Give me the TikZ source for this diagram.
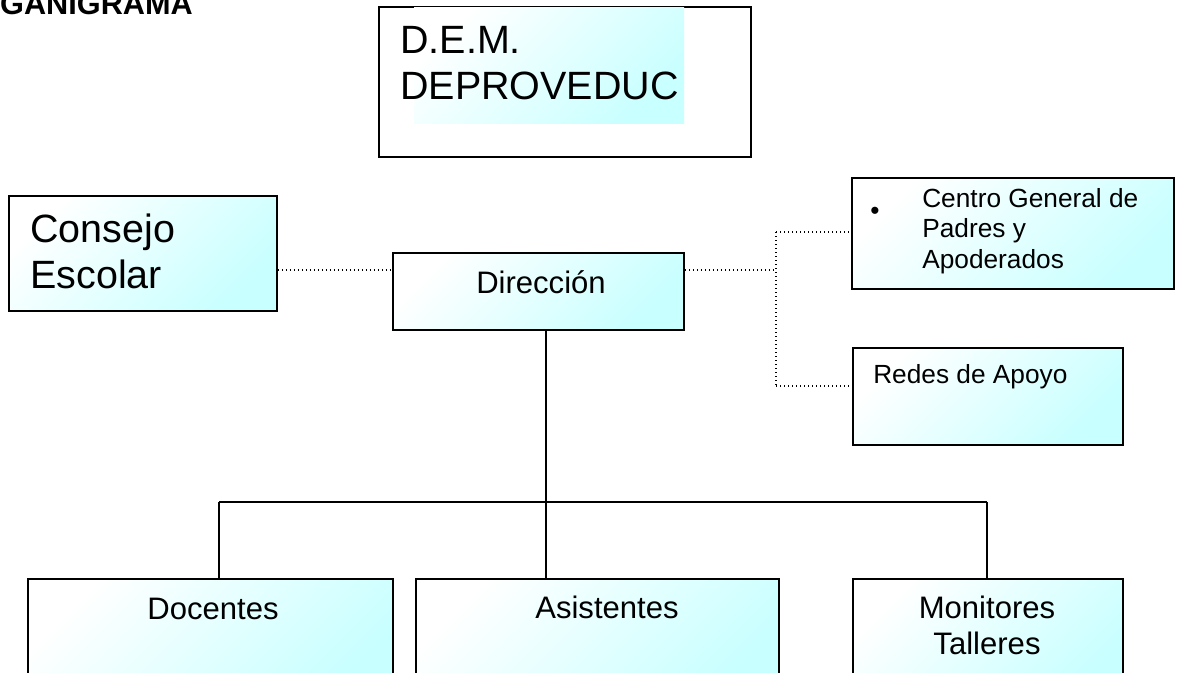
\documentclass[tikz,border=0pt]{standalone}
\usepackage{fontspec}
\setmainfont{Liberation Sans}
\definecolor{cyanish}{RGB}{200,255,255}
\tikzset{
  box/.style={draw=black, line width=1.4pt, inner sep=0pt, anchor=north west,
    top color=white, bottom color=cyanish, shading angle=45},
  plainbox/.style={draw=black, line width=1.4pt, inner sep=0pt, anchor=north west, fill=white},
  conn/.style={draw=black, line width=1.2pt},
  dots/.style={draw=black, line width=0.9pt, dash pattern=on 0.9pt off 2.1pt},
  txt/.style={inner sep=0pt, text=black},
  big/.style={font=\fontsize{29.6}{33.8}\selectfont},
  mid/.style={font=\fontsize{23.3}{26.8}\selectfont},
  small/.style={font=\fontsize{19.7}{22.6}\selectfont},
}
\begin{document}
\begin{tikzpicture}[x=0.75pt,y=-0.75pt]
\useasboundingbox (0,0) rectangle (1177,672);
% title
\node[txt, anchor=base east, font=\fontsize{23}{26}\selectfont\bfseries] (title) at (193,14) {GANIGRAMA};
% D.E.M. box
\node[plainbox, minimum width=279pt, minimum height=112.5pt] (dem) at (378,6) {};
\shade[top color=white, bottom color=cyanish, shading angle=45] (414,7) rectangle (684,123);
\node[txt, big, align=left, anchor=base west] (demT) at (400,99) {D.E.M.\\DEPROVEDUC};
% Consejo Escolar
\node[box, minimum width=201pt, minimum height=86.25pt] (cons) at (8,195) {};
\node[txt, big, align=left, anchor=base west] (consT) at (30,288) {Consejo\\Escolar};
% Direccion
\node[box, minimum width=218.25pt, minimum height=57.75pt] (dir) at (392,252) {};
\node[txt, mid, anchor=base] (dirT) at (541,293) {Dirección};
% Centro General
\node[box, minimum width=241.5pt, minimum height=83.25pt] (cgp) at (851,177) {};
\node[txt, small, anchor=center] (bul) at (875,213) {•};
\node[txt, small, align=left, anchor=base west] (cgpT) at (922,268) {Centro General de\\Padres y\\Apoderados};
% Redes de Apoyo
\node[box, minimum width=202.5pt, minimum height=72.75pt] (red) at (852,347) {};
\node[txt, small, anchor=base west] (redT) at (873,383) {Redes de Apoyo};
% bottom boxes
\node[box, minimum width=273.75pt, minimum height=90pt] (doc) at (27,578) {};
\node[txt, mid, anchor=base] (docT) at (213,619) {Docentes};
\node[box, minimum width=272.25pt, minimum height=90pt] (asi) at (415,578) {};
\node[txt, mid, anchor=base] (asiT) at (607,618) {Asistentes};
\node[box, minimum width=202.5pt, minimum height=90pt] (mon) at (852,578) {};
\node[txt, mid, align=center, anchor=base] (monT) at (987,654) {Monitores\\Talleres};
% coordinates
\coordinate (bus) at (546,502);
\coordinate (busL) at (219,502);
\coordinate (busR) at (987,502);
\coordinate (dv) at (776,270);
\coordinate (dvT) at (776,232);
\coordinate (dvB) at (776,386);
% solid tree
\draw[conn] (dir.south -| bus) -- (bus);
\draw[conn] (busL) -- (busR);
\draw[conn] (busL) -- (busL |- doc.north);
\draw[conn] (bus) -- (bus |- asi.north);
\draw[conn] (busR) -- (busR |- mon.north);
% dotted
\draw[dots] (cons.east |- 0,270) -- (dir.west |- 0,270);
\draw[dots] (dir.east |- 0,270) -- (dv);
\draw[dots] (dvT) -- (dvB);
\draw[dots] (dvT) -- (dvT -| cgp.west);
\draw[dots] (dvB) -- (dvB -| red.west);
\end{tikzpicture}
\end{document}
